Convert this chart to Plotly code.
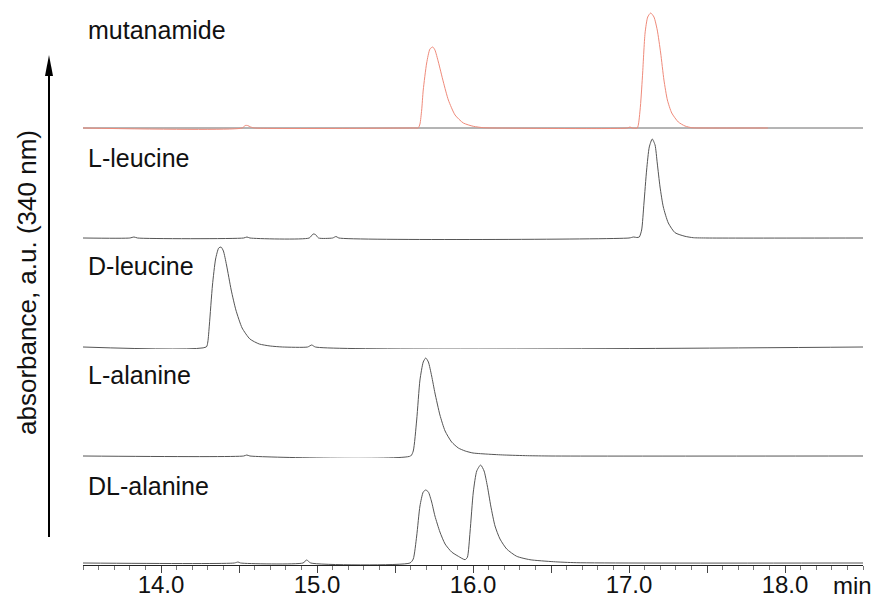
import plotly.graph_objects as go

# ---------------- data ----------------
x_range = [13.5, 18.5]
tick_vals = [14.0, 14.5, 15.0, 15.5, 16.0, 16.5, 17.0, 17.5, 18.0]
tick_text = ["14.0", "", "15.0", "", "16.0", "", "17.0", "", "18.0"]

trace_names = ["mutanamide", "L-leucine", "D-leucine", "L-alanine", "DL-alanine"]

# mutanamide (red trace, ends ~17.9 min; gray baseline underneath)
mut_t = [13.5, 14.52, 14.54, 14.555, 14.575, 14.6, 15.63, 15.649, 15.660, 15.671, 15.681,
         15.703, 15.724, 15.742, 15.756, 15.778, 15.810, 15.842, 15.885, 15.938, 16.002,
         16.066, 16.15, 16.99, 17.006, 17.02, 17.053, 17.071, 17.086, 17.103, 17.120,
         17.139, 17.160, 17.181, 17.203, 17.224, 17.246, 17.274, 17.316, 17.359, 17.402,
         17.5, 17.89]
mut_a = [0, 0, 2.5, 2.5, 1, 0, 0, 0, 4, 18, 38,
         65, 79, 81, 78, 66, 46, 28, 13, 5, 1.7,
         0.3, 0, 0, 1, 0, 0, 18, 51, 95, 111,
         115, 111, 98, 75, 48, 28, 15, 6, 2, 0.3,
         0, 0]
mut_base_t = [13.5, 18.5]
mut_base_a = [0, 0]

# L-leucine
lleu_t = [13.5, 13.80, 13.827, 13.85, 14.53, 14.551, 14.57, 14.95, 14.975, 14.99, 15.01,
          15.10, 15.122, 15.14, 17.0, 17.03, 17.05, 17.066, 17.081, 17.096, 17.113,
          17.130, 17.149, 17.167, 17.181, 17.199, 17.220, 17.252, 17.295, 17.359, 17.412,
          17.5, 18.5]
lleu_a = [0, 0, 1, 0, 0, 1, 0, 0, 4, 3.5, 0,
          0, 1.5, 0, 0, 1, 0.5, 1, 8, 35, 68,
          91, 99, 93, 75, 51, 31, 15, 5.3, 1.7, 0.3,
          0, 0]

# D-leucine
dleu_t = [13.5, 14.29, 14.30, 14.31, 14.33, 14.35, 14.37, 14.385, 14.40, 14.42, 14.45,
          14.48, 14.52, 14.57, 14.63, 14.70, 14.78, 14.94, 14.966, 14.99, 18.5]
dleu_a = [0, 0, 5, 22, 62, 88, 99, 100, 96, 82, 57,
          37, 19, 8, 3, 1, 0, 0, 2, 0, 0]

# L-alanine
lala_t = [13.5, 14.53, 14.55, 14.57, 15.60, 15.617, 15.639, 15.660, 15.681, 15.697, 15.714,
          15.735, 15.756, 15.788, 15.821, 15.863, 15.906, 15.95, 16.0, 16.1, 16.2,
          16.35, 16.5, 18.5]
lala_a = [0, 0, 1, 0, 0, 5, 36, 76, 94, 98, 94,
          80, 63, 41, 25, 14, 8, 5, 3, 1.8, 1,
          0.3, 0, 0]

# DL-alanine
dlala_t = [13.5, 14.47, 14.494, 14.51, 14.91, 14.934, 14.96, 15.596, 15.617, 15.639, 15.660,
           15.681, 15.697, 15.714, 15.735, 15.756, 15.788, 15.821, 15.863, 15.906, 15.949,
           15.964, 15.981, 16.002, 16.024, 16.049, 16.071, 16.092, 16.114, 16.141, 16.173,
           16.216, 16.280, 16.365, 16.515, 16.665, 18.5]
dlala_a = [0, 0, 1, 0, 0, 3, 0, 0, 4, 27, 57,
           71, 73, 71, 61, 47, 31, 19, 11, 6.7, 3.3,
           5.7, 31, 71, 92, 98, 92, 77, 57, 37, 24,
           14, 6.7, 3.3, 1.3, 0.3, 0]

# ---------------- layout geometry ----------------
W, H = 872, 598
ML, MR, MT, MB = 83, 9, 0, 33
PH = H - MT - MB
baselines_px = [128, 238, 347, 456, 563]
label_y_px = [30, 158, 266, 375, 486]
FONT = "Liberation Sans, Arial, Helvetica, sans-serif"


def py(p):
    return (PH - p) / PH


def px(p):
    return (p - ML) / (W - ML - MR)


fig = go.Figure()
series = [
    [(mut_base_t, mut_base_a, "#6a6a6a"), (mut_t, mut_a, "#ef8a7a")],
    [(lleu_t, lleu_a, "#555555")],
    [(dleu_t, dleu_a, "#555555")],
    [(lala_t, lala_a, "#555555")],
    [(dlala_t, dlala_a, "#555555")],
]

layout_axes = {}
for i, group in enumerate(series):
    yname = "y" if i == 4 else "y%d" % (i + 2)
    for t, a, col in group:
        fig.add_trace(go.Scatter(x=t, y=a, xaxis="x", yaxis=yname, mode="lines",
                                 line=dict(color=col, width=1, shape="spline", smoothing=0.6),
                                 hoverinfo="skip", showlegend=False))
    b = baselines_px[i]
    key = "yaxis" if i == 4 else "yaxis%d" % (i + 2)
    layout_axes[key] = dict(domain=[py(b + 2), py(b - 123)], range=[-2, 123],
                            visible=False, anchor="x", fixedrange=True, automargin=False)

fig.update_layout(
    width=W, height=H, margin=dict(l=ML, r=MR, t=MT, b=MB, autoexpand=False),
    paper_bgcolor="white", plot_bgcolor="rgba(0,0,0,0)", showlegend=False,
    xaxis=dict(range=x_range, anchor="y", showgrid=False, zeroline=False, automargin=False,
               showline=True, linecolor="#222", linewidth=1,
               tickvals=tick_vals, ticktext=tick_text, ticks="outside",
               ticklen=7, tickwidth=1, tickcolor="#444", ticklabelstandoff=-9,
               tickfont=dict(family=FONT, size=24, color="#111"),
               minor=dict(dtick=0.1, tick0=13.5, ticks="outside", ticklen=4,
                          tickwidth=1, tickcolor="#777", showgrid=False)),
    **layout_axes,
)

annots = []
for name, yp in zip(trace_names, label_y_px):
    annots.append(dict(text=name, xref="paper", yref="paper", x=px(86), y=py(yp),
                       xanchor="left", yanchor="middle", showarrow=False,
                       font=dict(family=FONT, size=25, color="#111")))
annots.append(dict(text="min", xref="paper", yref="paper", x=px(852), y=py(585),
                   xanchor="center", yanchor="middle", showarrow=False,
                   font=dict(family=FONT, size=24, color="#111")))
annots.append(dict(text="absorbance, a.u. (340 nm)", xref="paper", yref="paper",
                   x=px(27), y=py(283), textangle=-90, xanchor="center", yanchor="middle",
                   showarrow=False, font=dict(family=FONT, size=26, color="#111")))
fig.update_layout(annotations=annots)

ax_x = px(49)
hw = 4 / (W - ML - MR)
fig.update_layout(shapes=[
    dict(type="line", xref="paper", yref="paper", x0=ax_x, x1=ax_x, y0=py(537), y1=py(72),
         line=dict(color="black", width=2)),
    dict(type="path", xref="paper", yref="paper",
         path="M %f,%f L %f,%f L %f,%f Z" % (ax_x, py(55), ax_x - hw, py(76), ax_x + hw, py(76)),
         fillcolor="black", line=dict(color="black", width=0)),
])

fig.write_html("out.html", config={"displayModeBar": False},
               post_script="document.body.style.margin='0px';document.body.style.overflow='hidden';")
